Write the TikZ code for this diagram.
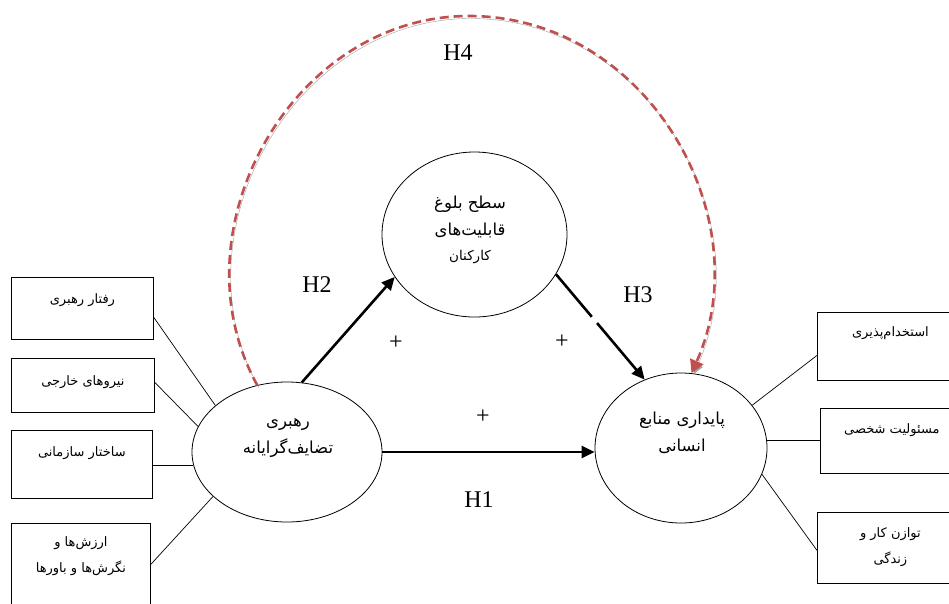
\documentclass[tikz,border=0pt]{standalone}
\usepackage{fontspec}
\setmainfont{Liberation Serif}
\newfontfamily\fafont[Script=Arabic]{DejaVu Sans}
\TeXXeTstate=1
\usetikzlibrary{arrows.meta,calc,shapes.geometric}
\definecolor{arcred}{RGB}{192,80,77}
\definecolor{arcgray}{RGB}{160,160,160}
\newcommand\prs[1]{\beginR #1\endR}
\begin{document}
\begin{tikzpicture}[x=1pt,y=-1pt,
  ell/.style={draw, ellipse, inner sep=0pt, line width=0.8pt},
  box/.style={draw, rectangle, inner sep=0pt, line width=0.8pt, anchor=north west},
  link/.style={line width=0.7pt},
  harrow/.style={line width=2.6pt, -{Triangle[length=13pt,width=12pt]}},
  harc/.style={arcred, line width=2.6pt, dash pattern=on 9pt off 5pt,
    -{Triangle[length=13pt,width=14pt]},
    preaction={draw=arcgray, transform canvas={xshift=1.5pt,yshift=-2.5pt}}},
  lat/.style={font=\fontsize{24}{28}\selectfont, inner sep=0pt},
  fabox/.style={font=\fafont\fontsize{13}{26}\selectfont, align=center, inner sep=0pt},
  faell/.style={font=\fafont\fontsize{16.5}{27}\selectfont, align=center, inner sep=0pt},
  fasmall/.style={font=\fafont\fontsize{13.5}{20}\selectfont, inner sep=0pt},
]
\useasboundingbox (0,0) rectangle (949,603);
\clip (0,0) rectangle (949,603);

% ellipses
\node[ell, minimum width=190pt, minimum height=140pt] (lead) at (287,452) {};
\node[ell, minimum width=185pt, minimum height=165pt] (mat) at (474.5,234.5) {};
\node[ell, minimum width=172pt, minimum height=150pt] (sus) at (681,448) {};

\node[faell] (leadtxt) at (288,437.5) {\prs{رهبری}\\\prs{تضایف^^^^200cگرایانه}};
\node[faell] (sustxt) at (682,432.5) {\prs{پایداری منابع}\\\prs{انسانی}};
\node[faell] (mattxt) at (470,216.5) {\prs{سطح بلوغ}\\\prs{قابلیت^^^^200cهای}};
\node[fasmall] (mattxt2) at (470,257) {\prs{کارکنان}};

% left boxes
\node[box, minimum width=142pt, minimum height=62pt] (b1) at (11,277) {};
\node[fabox] (t1) at ([yshift=-23pt]b1.north) {\prs{رفتار رهبری}};
\node[box, minimum width=143pt, minimum height=54pt] (b2) at (11,358) {};
\node[fabox] (t2) at ([yshift=-24pt]b2.north) {\prs{نیروهای خارجی}};
\node[box, minimum width=141pt, minimum height=68pt] (b3) at (11,430) {};
\node[fabox] (t3) at ([yshift=-23pt]b3.north) {\prs{ساختار سازمانی}};
\node[box, minimum width=139pt, minimum height=85pt] (b4) at (11,523) {};
\node[fabox] (t4) at ([yshift=-33.5pt]b4.north) {\prs{ارزش^^^^200cها و}\\\prs{نگرش^^^^200cها و باورها}};

% right boxes
\node[box, minimum width=146pt, minimum height=68pt] (r1) at (817,312) {};
\node[fabox] (u1) at ([yshift=-21pt]r1.north) {\prs{استخدام^^^^200cپذیری}};
\node[box, minimum width=143pt, minimum height=65pt] (r2) at (820,408) {};
\node[fabox] (u2) at ([yshift=-22pt]r2.north) {\prs{مسئولیت شخصی}};
\node[box, minimum width=146pt, minimum height=71pt] (r3) at (817,512) {};
\node[fabox] (u3) at ([yshift=-35.5pt]r3.north) {\prs{توازن کار و}\\\prs{زندگی}};

% links
\draw[link] ([yshift=-9pt]b1.east) -- (lead.147);
\draw[link] ([yshift=3pt]b2.east) -- (lead.164);
\draw[link] (lead.188) -- (lead.188 -| b3.east);
\draw[link] ([yshift=1.5pt]b4.east) -- (lead.211);
\draw[link] (sus.31) -- ([yshift=-9pt]r1.west);
\draw[link] (sus.5) -- (sus.5 -| r2.west);
\draw[link] (sus.342) -- ([yshift=-2.5pt]r3.west);

% hypothesis arrows
\draw[harrow] (lead.east) -- (lead.east -| sus.west);
\draw[harrow] (lead.78) -- (mat.208);
\draw[harrow] (mat.334) -- (sus.118);
\draw[white, line width=4.5pt] ($(mat.334)!0.405!(sus.118)$) -- ($(mat.334)!0.462!(sus.118)$);

% H4 arc
\coordinate (arctop) at (469,16);
\draw[harc] (lead.114) .. controls (172.3,231.3) and (291.4,16) .. (arctop)
  .. controls (646.6,16) and (761.2,216.8) .. (sus.82);

% labels
\node[lat] (h4) at (458,53) {H4};
\node[lat] (h2) at (317,285) {H2};
\node[lat] (h3) at (638,295) {H3};
\node[lat] (h1) at (479,500) {H1};
\node[lat] (p1) at (396,343) {+};
\node[lat] (p2) at (562,342) {+};
\node[lat] (p3) at (483,417) {+};
\end{tikzpicture}
\end{document}
